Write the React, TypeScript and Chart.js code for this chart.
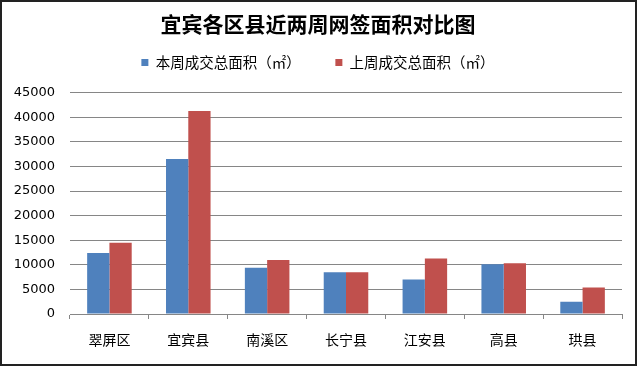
import React, { useEffect, useRef } from "react";
import { Chart, registerables } from "chart.js";
Chart.register(...registerables);

const chartTitle = "宜宾各区县近两周网签面积对比图";
const categories = ["翠屏区", "宜宾县", "南溪区", "长宁县", "江安县", "高县", "珙县"];
const seriesNames = ["本周成交总面积（㎡）", "上周成交总面积（㎡）"];
const thisWeek = [12400, 31500, 9400, 8500, 7000, 10100, 2500];
const lastWeek = [14500, 41300, 11000, 8500, 11300, 10300, 5400];
const yMin = 0;
const yMax = 45000;
const yStep = 5000;

const CJK = "'Noto Sans CJK SC', 'Noto Sans', sans-serif";

export default function App() {
  const ref = useRef<HTMLCanvasElement>(null);
  useEffect(() => {
    document.body.style.margin = "0";
    const frame = {
      id: "frame",
      afterDraw(chart: any) {
        const ctx = chart.ctx;
        ctx.save();
        ctx.strokeStyle = "#222";
        ctx.lineWidth = 2;
        ctx.strokeRect(1, 1, 635, 364);
        ctx.restore();
      },
    };
    const legendMargin = {
      id: "legendMargin",
      beforeInit(chart: any) {
        const lg = chart.legend;
        if (!lg) return;
        const orig = lg.fit;
        lg.fit = function () {
          orig.call(this);
          this.height += 13;
        };
      },
      afterLayout(chart: any) {
        const shift = 7;
        for (const b of [chart.legend, chart.titleBlock]) {
          if (!b) continue;
          b.left += shift;
          b.right += shift;
        }
        if (chart.legend && chart.legend.legendHitBoxes) {
          chart.legend.legendHitBoxes.forEach((h: any) => (h.left += shift));
        }
      },
    };
    const chart = new Chart(ref.current as HTMLCanvasElement, {
      type: "bar",
      data: {
        labels: categories,
        datasets: [
          {
            label: seriesNames[0],
            data: thisWeek,
            backgroundColor: "#4F81BD",
            categoryPercentage: 0.565,
            barPercentage: 1,
          },
          {
            label: seriesNames[1],
            data: lastWeek,
            backgroundColor: "#C0504D",
            categoryPercentage: 0.565,
            barPercentage: 1,
          },
        ],
      },
      options: {
        animation: false,
        responsive: false,
        layout: { padding: { left: 0, right: 18, top: 0, bottom: 0 } },
        plugins: {
          title: {
            display: true,
            text: chartTitle,
            color: "#000",
            font: { family: CJK, size: 21, weight: "bold" },
            padding: { top: 11, bottom: 6 },
          },
          legend: {
            labels: {
              boxWidth: 7,
              boxHeight: 7,
              color: "#000",
              font: { family: CJK, size: 14.5 },
              padding: 13,
              generateLabels(c: any) {
                const items = (Chart.defaults.plugins.legend.labels as any).generateLabels(c);
                items.forEach((it: any, i: number) => {
                  it.lineWidth = 0;
                  if (i < items.length - 1) it.text = it.text + "　　";
                });
                return items;
              },
            },
          },
          tooltip: { enabled: false },
        },
        scales: {
          x: {
            grid: {
              offset: true,
              drawOnChartArea: false,
              drawTicks: true,
              tickLength: 5,
              color: "#868686",
            },
            border: { display: true, color: "#868686" },
            ticks: { color: "#000", font: { family: CJK, size: 14 }, padding: 12 },
            afterFit(s: any) {
              s.height = 53;
            },
          },
          y: {
            min: yMin,
            max: yMax,
            ticks: {
              stepSize: yStep,
              color: "#000",
              font: { family: "'DejaVu Sans', sans-serif", size: 13 },
              padding: 15,
              callback: (v: any) => String(v),
            },
            grid: { color: "#868686", drawTicks: false },
            border: { display: false },
            afterFit(s: any) {
              s.width = 70;
            },
          },
        },
      },
      plugins: [frame, legendMargin],
    } as any);
    return () => chart.destroy();
  }, []);
  return (
    <div style={{ position: "absolute", left: 0, top: 0, width: 640, height: 367, background: "#fff" }}>
      <canvas ref={ref} width={640} height={367} style={{ display: "block" }} />
    </div>
  );
}
